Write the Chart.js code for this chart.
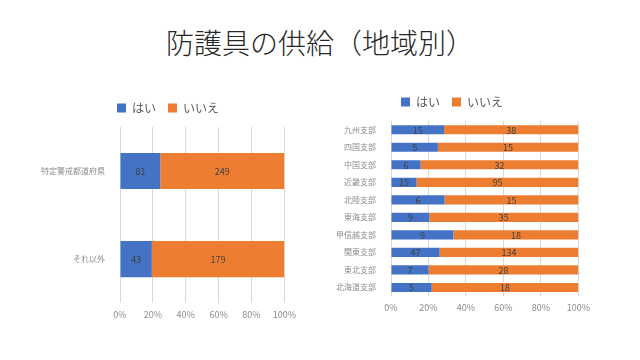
<!DOCTYPE html>
<html>
<head>
<meta charset="utf-8">
<script src="https://cdn.jsdelivr.net/npm/chart.js@4"></script>
<style>
  body { margin: 0; width: 640px; height: 360px; background: #fff; position: relative; overflow: hidden;
         font-family: "Noto Sans CJK JP", sans-serif; }
  #titulo { position: absolute; left: 0; top: 22px; width: 640px; text-align: center;
            font-size: 28px; font-weight: 300; color: #262626; }
  .caixa { position: absolute; }
</style>
</head>
<body>
<div id="titulo">防護具の供給（地域別）</div>
<div class="caixa" style="left:40px; top:90px; width:262px; height:236px;"><canvas id="graficoEsquerda"></canvas></div>
<div class="caixa" style="left:310px; top:84px; width:286px; height:235px;"><canvas id="graficoDireita"></canvas></div>
<script>
const AZUL = '#4472C4';
const LARANJA = '#ED7D31';
const FONTE = '"Noto Sans CJK JP", sans-serif';

// Gráfico da esquerda
const categoriasEsq = ['特定警戒都道府県', 'それ以外'];
const simEsq = [81, 43];
const naoEsq = [249, 179];

// Gráfico da direita (de cima para baixo)
const categoriasDir = ['九州支部', '四国支部', '中国支部', '近畿支部', '北陸支部', '東海支部', '甲信越支部', '関東支部', '東北支部', '北海道支部'];
const simDir = [15, 5, 6, 15, 6, 9, 9, 47, 7, 5];
const naoDir = [38, 15, 32, 95, 15, 35, 18, 134, 28, 18];

const ticksPct = [0, 20, 40, 60, 80, 100];

function porcentagem(a, b) {
  return a.map((v, i) => v / (v + b[i]) * 100);
}

// Escreve a contagem no meio de cada segmento
const rotulosContagem = {
  id: 'rotulosContagem',
  afterDatasetsDraw(chart) {
    const ctx = chart.ctx;
    ctx.save();
    ctx.font = '9px ' + FONTE;
    ctx.fillStyle = '#404040';
    ctx.textAlign = 'center';
    ctx.textBaseline = 'middle';
    chart.data.datasets.forEach((ds, i) => {
      chart.getDatasetMeta(i).data.forEach((bar, j) => {
        ctx.fillText(ds.contagens[j], (bar.x + bar.base) / 2, bar.y + 0.5);
      });
    });
    ctx.restore();
  }
};

// Um pouco mais de espaço abaixo da legenda
const espacoLegenda = {
  id: 'espacoLegenda',
  beforeInit(chart) {
    const fitOriginal = chart.legend.fit;
    chart.legend.fit = function () {
      fitOriginal.bind(chart.legend)();
      this.height += 3;
    };
  }
};

function montarGrafico(id, categorias, sim, nao, larguraY, espessura, padDireita) {
  const pctSim = porcentagem(sim, nao);
  const pctNao = porcentagem(nao, sim);
  return new Chart(document.getElementById(id), {
    type: 'bar',
    data: {
      labels: categorias,
      datasets: [
        { label: 'はい', data: pctSim, contagens: sim, backgroundColor: AZUL },
        { label: 'いいえ', data: pctNao, contagens: nao, backgroundColor: LARANJA }
      ]
    },
    options: {
      indexAxis: 'y',
      responsive: true,
      maintainAspectRatio: false,
      animation: false,
      barPercentage: espessura,
      categoryPercentage: 1,
      layout: { padding: { right: padDireita } },
      plugins: {
        legend: {
          position: 'top',
          labels: {
            boxWidth: 9, boxHeight: 9, padding: 12,
            color: '#595959',
            font: { size: 12, family: FONTE }
          }
        },
        tooltip: { enabled: false }
      },
      scales: {
        x: {
          stacked: true,
          min: 0, max: 100,
          afterBuildTicks(scale) { scale.ticks = ticksPct.map(v => ({ value: v })); },
          ticks: { callback: v => v + '%', color: '#8c8c8c', font: { size: 9, family: FONTE }, padding: 6 },
          grid: { color: '#d9d9d9', drawTicks: false },
          border: { display: false }
        },
        y: {
          stacked: true,
          afterFit(scale) { scale.width = larguraY; },
          ticks: { color: '#8c8c8c', font: { size: 8, family: FONTE }, padding: 7 },
          grid: { display: false },
          border: { display: false }
        }
      }
    },
    plugins: [rotulosContagem, espacoLegenda]
  });
}

montarGrafico('graficoEsquerda', categoriasEsq, simEsq, naoEsq, 80, 0.41, 6);
montarGrafico('graficoDireita', categoriasDir, simDir, naoDir, 81, 0.52, 2);
</script>
</body>
</html>
